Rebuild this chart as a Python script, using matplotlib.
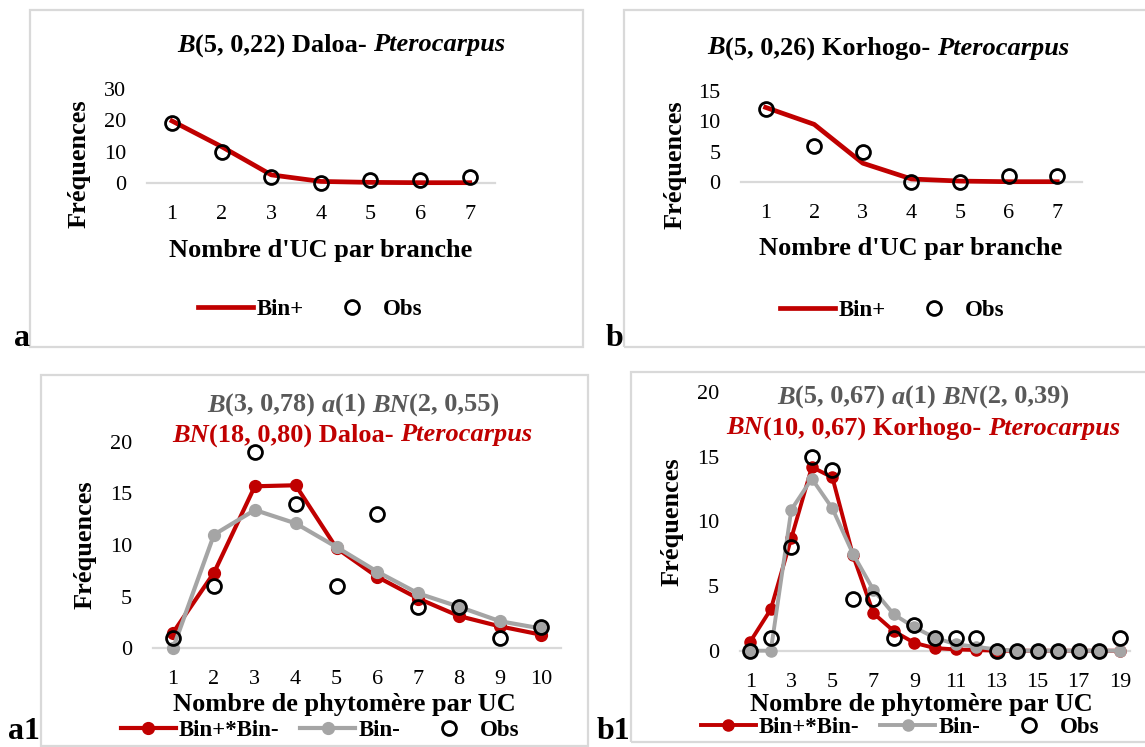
import matplotlib
matplotlib.use('Agg')
import matplotlib.pyplot as plt
from matplotlib.transforms import IdentityTransform
from matplotlib.patches import Rectangle

# --- data ---
a_x = [1, 2, 3, 4, 5, 6, 7]
a_bin = [19.8, 11.6, 2.6, 0.5, 0.2, 0.1, 0.1]
a_obs = [19, 10, 2, 0, 1, 1, 2]

b_x = [1, 2, 3, 4, 5, 6, 7]
b_bin = [12.3, 9.5, 3.1, 0.5, 0.15, 0.05, 0.05]
b_obs = [12, 6, 5, 0, 0, 1, 1]

a1_x = [1, 2, 3, 4, 5, 6, 7, 8, 9, 10]
a1_mix = [1.5, 7.3, 15.7, 15.8, 9.7, 6.9, 4.8, 3.1, 2.1, 1.3]
a1_neg = [0, 11.0, 13.4, 12.1, 9.8, 7.4, 5.3, 4.0, 2.6, 1.9]
a1_obs = [1, 6, 19, 14, 6, 13, 4, 4, 1, 2]

b1_x = list(range(1, 20))
b1_mix = [0.7, 3.2, 8.7, 14.2, 13.4, 7.4, 2.9, 1.5, 0.6, 0.2, 0.1, 0.05, 0, 0, 0, 0, 0, 0, 0]
b1_neg = [0, 0, 10.9, 13.3, 11.0, 7.5, 4.7, 2.8, 1.8, 1.0, 0.5, 0.3, 0.1, 0, 0, 0, 0, 0, 0]
b1_obs = [0, 1, 8, 15, 14, 4, 4, 1, 2, 1, 1, 1, 0, 0, 0, 0, 0, 0, 1]

RED = '#C00000'
GREY = '#A5A5A5'
DGREY = '#595959'
W, H = 1145, 747

plt.rcParams['font.family'] = 'Liberation Serif'
fig = plt.figure(figsize=(W / 100, H / 100), dpi=100)
renderer = fig.canvas.get_renderer()
PX = IdentityTransform()


def px_axes(x0, x1, y_bot, y_top):
    return fig.add_axes([x0 / W, 1 - y_bot / H, (x1 - x0) / W, (y_bot - y_top) / H])


def setup(ax, n, ymax, ystep, xticks):
    ax.set_xlim(0.5, n + 0.5)
    ax.set_ylim(0, ymax)
    ax.set_yticks(range(0, ymax + 1, ystep))
    ax.set_xticks(xticks)
    ax.patch.set_alpha(0)
    for s in ['top', 'left', 'right']:
        ax.spines[s].set_visible(False)
    ax.spines['bottom'].set_color('#D9D9D9')
    ax.spines['bottom'].set_linewidth(1.6)
    ax.tick_params(length=0, labelsize=16)
    ax.tick_params(axis='y', pad=15)
    ax.tick_params(axis='x', pad=16)


def txt(x, y, s, size=19, **kw):
    kw.setdefault('va', 'center')
    return fig.text(x, H - y, s, transform=PX, fontsize=size, fontweight='bold',
                    ha='center', **kw)


def rich(x, y, parts, size=19):
    # parts: (text, style, colour) drawn side by side, centred on x
    items = []
    for s, style, col in parts:
        kw = dict(fontsize=size, fontweight='bold', fontstyle=style, transform=PX)
        p1 = fig.text(0, 0, '|' + s + '|', **kw)
        p2 = fig.text(0, 0, '||', **kw)
        w = p1.get_window_extent(renderer).width - p2.get_window_extent(renderer).width
        p1.remove()
        p2.remove()
        items.append((s, kw, col, w))
    cur = x - sum(i[3] for i in items) / 2
    for s, kw, col, w in items:
        fig.text(cur, H - y, s, color=col, ha='left', va='center', **kw)
        cur += w


def box(x0, y0, x1, y1):
    fig.patches.append(Rectangle((x0, H - y1), x1 - x0, y1 - y0, transform=PX,
                                 fill=False, edgecolor='#D9D9D9', lw=1.6))


def legend(ax, cx, cy):
    ax.legend(loc='center', bbox_to_anchor=(cx / W, 1 - cy / H), bbox_transform=fig.transFigure,
              ncol=3, frameon=False, prop=dict(weight='bold', size=16.5),
              handlelength=2.4, handletextpad=0.15, columnspacing=0.9, numpoints=1)


obs_kw = dict(ls='none', marker='o', ms=10, mfc='none', mec='black', mew=2, clip_on=False, zorder=5)

# panel boxes
box(30, 10, 583, 347)
box(624, 10, 1150, 347)
box(41, 375, 588, 746)
box(631, 372, 1150, 742)

# ---- a ----
ax = px_axes(147.2, 494.5, 183, 89)
setup(ax, 7, 30, 10, a_x)
ax.plot(a_x, a_bin, color=RED, lw=3.4, clip_on=False, label='Bin+', zorder=3)
ax.plot(a_x, a_obs, label='Obs', **obs_kw)
legend(ax, 310, 309)
rich(341, 45, [('B', 'italic', 'black'), ('(5, 0,22) Daloa- ', 'normal', 'black'),
               ('Pterocarpus', 'italic', 'black')])
txt(321, 250, "Nombre d'UC par branche")
txt(79.5, 164, 'Fréquences', rotation=90)
txt(22, 339, 'a', size=23)

# ---- b ----
ax = px_axes(741.3, 1081.5, 182, 91)
setup(ax, 7, 15, 5, b_x)
ax.plot(b_x, b_bin, color=RED, lw=3.4, clip_on=False, label='Bin+', zorder=3)
ax.plot(b_x, b_obs, label='Obs', **obs_kw)
legend(ax, 892.5, 310)
rich(888, 48, [('B', 'italic', 'black'), ('(5, 0,26) Korhogo- ', 'normal', 'black'),
               ('Pterocarpus', 'italic', 'black')])
txt(911, 248, "Nombre d'UC par branche")
txt(675.5, 165, 'Fréquences', rotation=90)
txt(615, 339, 'b', size=23)

# ---- a1 ----
ax = px_axes(152.7, 561.2, 648, 442)
setup(ax, 10, 20, 5, a1_x)
ax.plot(a1_x, a1_mix, color=RED, lw=3, marker='o', ms=8.5, clip_on=False, label='Bin+*Bin-', zorder=3)
ax.plot(a1_x, a1_neg, color=GREY, lw=3, marker='o', ms=8.5, clip_on=False, label='Bin-', zorder=4)
ax.plot(a1_x, a1_obs, label='Obs', **obs_kw)
legend(ax, 320, 730)
rich(353, 405, [('B', 'italic', DGREY), ('(3, 0,78) ', 'normal', DGREY), ('a', 'italic', DGREY),
                ('(1) ', 'normal', DGREY), ('BN', 'italic', DGREY), ('(2, 0,55)', 'normal', DGREY)])
rich(352, 435, [('BN', 'italic', RED), ('(18, 0,80) Daloa- ', 'normal', RED),
                ('Pterocarpus', 'italic', RED)])
txt(344, 705, 'Nombre de phytomère par UC')
txt(85, 545, 'Fréquences', rotation=90)
txt(24, 746, 'a1', size=23, va='bottom')

# ---- b1 ----
ax = px_axes(740, 1130, 650.7, 392)
setup(ax, 19, 20, 5, b1_x[::2])
ax.plot(b1_x, b1_mix, color=RED, lw=2.8, marker='o', ms=8, clip_on=False, label='Bin+*Bin-', zorder=3)
ax.plot(b1_x, b1_neg, color=GREY, lw=2.8, marker='o', ms=8, clip_on=False, label='Bin-', zorder=4)
ax.plot(b1_x, b1_obs, label='Obs', **obs_kw)
legend(ax, 900, 727)
rich(923, 397, [('B', 'italic', DGREY), ('(5, 0,67) ', 'normal', DGREY), ('a', 'italic', DGREY),
                ('(1) ', 'normal', DGREY), ('BN', 'italic', DGREY), ('(2, 0,39)', 'normal', DGREY)])
rich(923, 428, [('BN', 'italic', RED), ('(10, 0,67) Korhogo- ', 'normal', RED),
                ('Pterocarpus', 'italic', RED)])
txt(921, 705, 'Nombre de phytomère par UC')
txt(672, 522, 'Fréquences', rotation=90)
txt(613, 746, 'b1', size=23, va='bottom')

fig.savefig('out.png', dpi=100)
